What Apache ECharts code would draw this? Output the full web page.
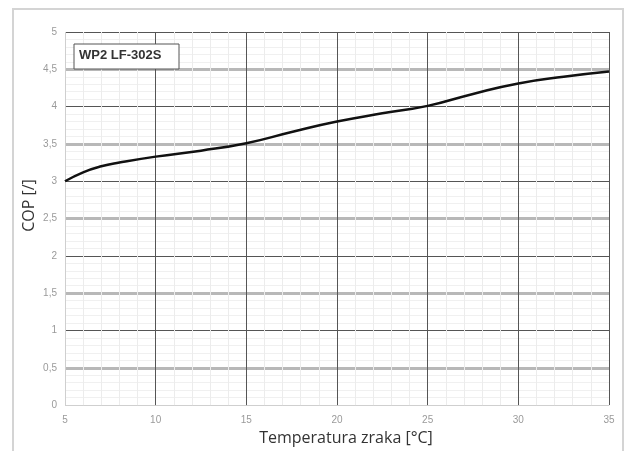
<!DOCTYPE html>
<html>
<head>
<meta charset="utf-8">
<script src="https://cdn.jsdelivr.net/npm/echarts@6/dist/echarts.min.js"></script>
<style>
html,body{margin:0;padding:0;background:#fff;}
#c{width:627px;height:451px;}
</style>
</head>
<body>
<div id="c"></div>
<script>
const temperatures = [5, 6, 7, 8, 10, 12.5, 15, 17.5, 20, 22.5, 25, 27.5, 30, 32.5, 35];
const copValues = [3.00, 3.12, 3.20, 3.25, 3.33, 3.41, 3.51, 3.66, 3.80, 3.91, 4.01, 4.17, 4.31, 4.40, 4.47];
const seriesLabel = 'WP2 LF-302S';
const xTitle = 'Temperatura zraka [°C]';
const yTitle = 'COP [/]';

const chart = echarts.init(document.getElementById('c'), null, {renderer:'canvas'});
const data = temperatures.map((t,i)=>[t, copValues[i]]);
const labelFont = {color:'#9a9a9a', fontSize:10, fontFamily:'Liberation Sans'};

chart.setOption({
  backgroundColor:'#fff',
  animation:false,
  grid:{left:65, right:18, top:32, bottom:44, containLabel:false},
  xAxis:{
    type:'value', min:5, max:35, interval:5,
    name:xTitle, nameLocation:'middle', nameGap:21,
    nameTextStyle:{color:'#333', fontSize:16, fontFamily:'Open Sans', padding:[0,0,0,18]},
    axisLine:{show:false}, axisTick:{show:false},
    axisLabel:Object.assign({margin:10}, labelFont),
    splitLine:{show:true, lineStyle:{color:['#cfcfcf','#555','#555','#555','#555','#555','#555'], width:1}},
    minorTick:{show:false, splitNumber:5},
    minorSplitLine:{show:true, lineStyle:{color:'#ececec', width:1}}
  },
  yAxis:[{
    type:'value', min:0, max:5, interval:1,
    name:yTitle, nameLocation:'middle', nameGap:28, nameRotate:90,
    nameTextStyle:{color:'#333', fontSize:16, fontFamily:'Open Sans', padding:[0,0,0,26]},
    axisLine:{show:false}, axisTick:{show:false},
    axisLabel:{show:false},
    splitLine:{show:true, lineStyle:{color:['#cfcfcf','#555','#555','#555','#555','#555'], width:1}}
  },{
    type:'value', min:0, max:5, interval:0.5, position:'left',
    axisLine:{show:false}, axisTick:{show:false},
    axisLabel:Object.assign({margin:8, formatter:v=>String(v).replace('.',',')}, labelFont),
    splitLine:{show:true, lineStyle:{color:['rgba(0,0,0,0)','#b8b8b8'], width:3}},
    minorTick:{show:false, splitNumber:5},
    minorSplitLine:{show:true, lineStyle:{color:'#f0f0f0', width:1}}
  }],
  graphic:[
    {type:'rect', shape:{x:13, y:9, width:610, height:480}, style:{fill:'none', stroke:'#d4d4d4', lineWidth:2}, z:-10},
    {type:'rect', shape:{x:74, y:44, width:105, height:25}, style:{fill:'#fff', stroke:'#555', lineWidth:1}, z:100},
    {type:'text', x:79, y:49, style:{text:seriesLabel, fill:'#333', font:'bold 13px "Liberation Sans"'}, z:101}
  ],
  series:[{
    type:'line', xAxisIndex:0, yAxisIndex:0,
    data:data, smooth:true, showSymbol:false, symbol:'none',
    lineStyle:{color:'#111', width:2.5}, z:10
  }]
});
</script>
</body>
</html>
